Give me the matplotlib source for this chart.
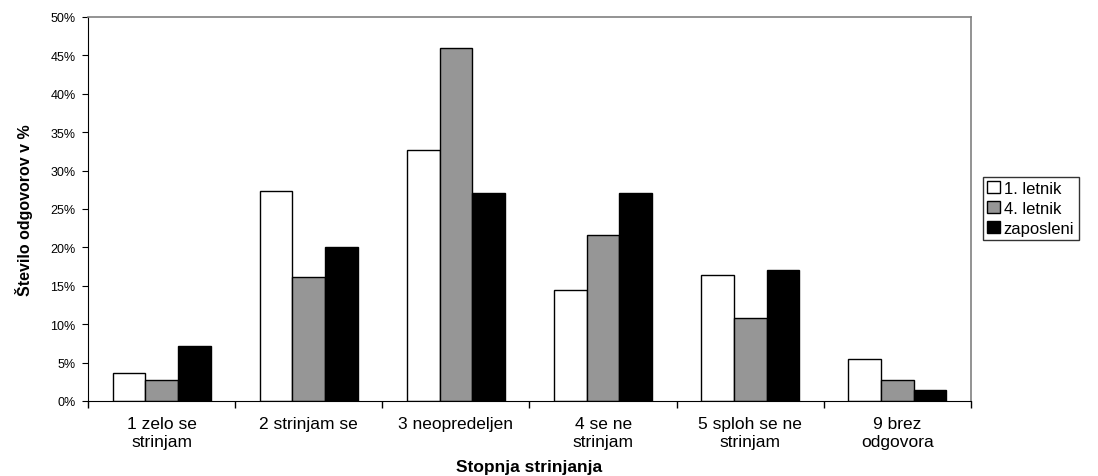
import numpy as np
import matplotlib.pyplot as plt
from matplotlib.ticker import PercentFormatter, FixedLocator

plt.rcParams['font.family'] = ['Liberation Sans', 'DejaVu Sans']

categories = ['1 zelo se\nstrinjam', '2 strinjam se', '3 neopredeljen',
              '4 se ne\nstrinjam', '5 sploh se ne\nstrinjam', '9 brez\nodgovora']
letnik1 = [3.6, 27.3, 32.7, 14.5, 16.4, 5.5]
letnik4 = [2.7, 16.2, 45.9, 21.6, 10.8, 2.7]
zaposleni = [7.1, 20.0, 27.1, 27.1, 17.1, 1.4]
series = [('1. letnik', letnik1, 'white'),
          ('4. letnik', letnik4, '#969696'),
          ('zaposleni', zaposleni, 'black')]

fig = plt.figure(figsize=(10.98, 4.77), dpi=100)
ax = fig.add_axes([88 / 1098, 1 - 402 / 477, 883 / 1098, 384 / 477])

x = np.arange(len(categories))
w = 0.222
for i, (name, vals, col) in enumerate(series):
    ax.bar(x + (i - 1) * w, vals, w, color=col, edgecolor='black',
           linewidth=1, label=name)

ax.set_xlim(-0.5, len(categories) - 0.5)
ax.set_ylim(0, 50)
ax.set_yticks(np.arange(0, 51, 5))
ax.yaxis.set_major_formatter(PercentFormatter(decimals=0))
ax.set_xticks(x)
ax.set_xticklabels(categories, fontsize=12.5, linespacing=1.25)
ax.xaxis.set_minor_locator(FixedLocator(np.arange(-0.5, len(categories), 1)))
ax.tick_params(axis='x', which='major', length=0, pad=11)
ax.tick_params(axis='x', which='minor', length=5, width=1)
ax.tick_params(axis='y', labelsize=9, length=4, pad=5)

for s in ['top', 'right']:
    ax.spines[s].set_color('#808080')
    ax.spines[s].set_linewidth(1.2)
for s in ['left', 'bottom']:
    ax.spines[s].set_color('black')

ax.set_ylabel('Število odgovorov v %', fontsize=11.5, fontweight='bold')
ax.yaxis.set_label_coords(-0.062, 0.5)
ax.set_xlabel('Stopnja strinjanja', fontsize=12.5, fontweight='bold')
ax.xaxis.set_label_coords(0.5, -0.152)
ax.xaxis.label.set_va('top')

leg = fig.legend(loc='upper left', bbox_to_anchor=(983 / 1098, 1 - 178 / 477),
                 fontsize=12, frameon=True, fancybox=False, edgecolor='black',
                 handlelength=0.75, handleheight=0.75, handletextpad=0.25,
                 borderpad=0.25, labelspacing=0.3, borderaxespad=0)
leg.get_frame().set_linewidth(1)

fig.savefig('out.png', dpi=100)
